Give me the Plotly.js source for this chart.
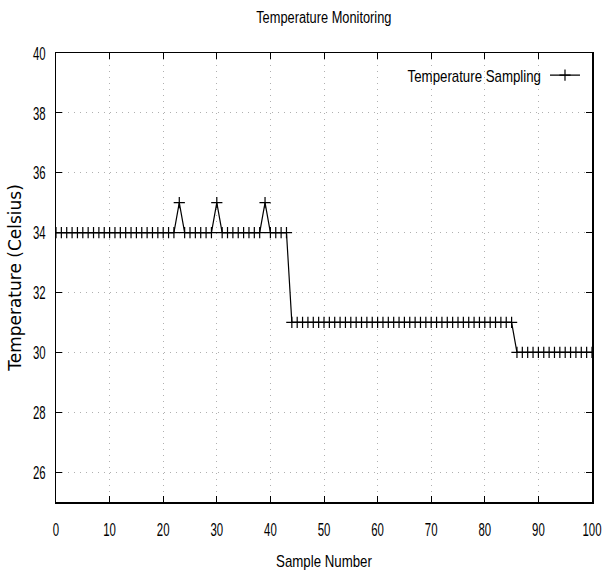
<!DOCTYPE html>
<html>
<head>
<meta charset="utf-8">
<script src="https://cdn.plot.ly/plotly-3.0.1.min.js"></script>
<style>html,body{margin:0;padding:0;background:#fff;}#chart{width:603px;height:578px;}</style>
</head>
<body>
<div id="chart"></div>
<script>
const sampleNumber = [0,1,2,3,4,5,6,7,8,9,10,11,12,13,14,15,16,17,18,19,20,21,22,23,24,25,26,27,28,29,30,31,32,33,34,35,36,37,38,39,40,41,42,43,44,45,46,47,48,49,50,51,52,53,54,55,56,57,58,59,60,61,62,63,64,65,66,67,68,69,70,71,72,73,74,75,76,77,78,79,80,81,82,83,84,85,86,87,88,89,90,91,92,93,94,95,96,97,98,99,100];
const temperature = [34,34,34,34,34,34,34,34,34,34,34,34,34,34,34,34,34,34,34,34,34,34,34,35,34,34,34,34,34,34,35,34,34,34,34,34,34,34,34,35,34,34,34,34,31,31,31,31,31,31,31,31,31,31,31,31,31,31,31,31,31,31,31,31,31,31,31,31,31,31,31,31,31,31,31,31,31,31,31,31,31,31,31,31,31,31,30,30,30,30,30,30,30,30,30,30,30,30,30,30,30];
const seriesName = "Temperature Sampling";
const xTicks = [0,10,20,30,40,50,60,70,80,90,100];
const yTicks = [26,28,30,32,34,36,38,40];

const sans = "'Liberation Sans', Arial, sans-serif";
const axisCommon = {
  showline: true, linecolor: '#000', linewidth: 1.5, mirror: 'ticks',
  ticks: 'inside', ticklen: 6, tickcolor: '#000', tickwidth: 1,
  showgrid: true, gridcolor: '#b0b0b0', griddash: '1px,5px', gridwidth: 1,
  zeroline: false, ticklabeloverflow: 'allow',
  tickfont: {family: sans, size: 19, color: '#000'}
};

Plotly.newPlot('chart', [{
  x: sampleNumber, y: temperature, name: seriesName,
  type: 'scatter', mode: 'lines+markers',
  line: {color: '#000', width: 1.2},
  marker: {symbol: 'cross-thin-open', size: 8, color: '#000', line: {color: '#000', width: 1.2}},
  showlegend: true
}], {
  width: 603, height: 578,
  margin: {l: 56, r: 11, t: 53, b: 76},
  paper_bgcolor: '#fff', plot_bgcolor: '#fff',
  title: {text: 'Temperature Monitoring', x: 0.537, xanchor: 'center', y: 0.97, yanchor: 'middle',
          font: {family: sans, size: 16, color: '#000'}},
  xaxis: Object.assign({}, axisCommon, {
    range: [0, 100], tickvals: xTicks, ticktext: xTicks.map(String), ticklabelstandoff: 10,
    title: {text: 'Sample Number', standoff: 16, font: {family: sans, size: 17, color: '#000'}}
  }),
  yaxis: Object.assign({}, axisCommon, {
    range: [25, 40], tickvals: yTicks, ticktext: yTicks.map(String), ticklabelstandoff: 5,
    title: {text: 'Temperature (Celsius)', standoff: 5, font: {family: "'DejaVu Sans', sans-serif", size: 17, color: '#000'}}
  }),
  legend: {x: 0.985, y: 0.99, xanchor: 'right', yanchor: 'top', bgcolor: 'rgba(0,0,0,0)',
           font: {family: sans, size: 17, color: '#000'}},
  showlegend: true
}, {displayModeBar: false, staticPlot: true}).then(function (gd) {
  // condense texts horizontally (the reference uses a condensed face)
  function condense(sel, f) {
    gd.querySelectorAll(sel).forEach(function (t) {
      const w = t.getComputedTextLength();
      t.setAttribute('data-w0', w);
      t.setAttribute('textLength', (w * f).toFixed(2));
      t.setAttribute('lengthAdjust', 'spacingAndGlyphs');
    });
  }
  condense('.xtick text, .ytick text', 0.6);
  condense('.gtitle', 0.8);
  condense('.g-xtitle text', 0.78);
  condense('.legendtext', 0.78);
  // y title a little closer to the tick labels
  const yt = gd.querySelector('.g-ytitle');
  if (yt) yt.setAttribute('transform', 'translate(7,0)');
  // legend: text first, then the line sample, as in the reference
  gd.querySelectorAll('.legend .traces').forEach(function (g) {
    const txt = g.querySelector('.legendtext');
    const w = parseFloat(txt.getAttribute('textLength'));
    const w0 = parseFloat(txt.getAttribute('data-w0'));
    txt.setAttribute('x', 0);
    Array.prototype.forEach.call(g.children, function (c) {
      if (c.tagName.toLowerCase() === 'g') c.setAttribute('transform', 'translate(' + (w + 4) + ',0)');
    });
    const m = /translate\(([-\d.]+),\s*([-\d.]+)\)/.exec(g.getAttribute('transform') || 'translate(0,0)');
    const tx = parseFloat(m[1]) + (w0 - w) + 3, ty = parseFloat(m[2]);
    g.setAttribute('transform', 'translate(' + tx + ',' + ty + ')');
  });
});
</script>
</body>
</html>
